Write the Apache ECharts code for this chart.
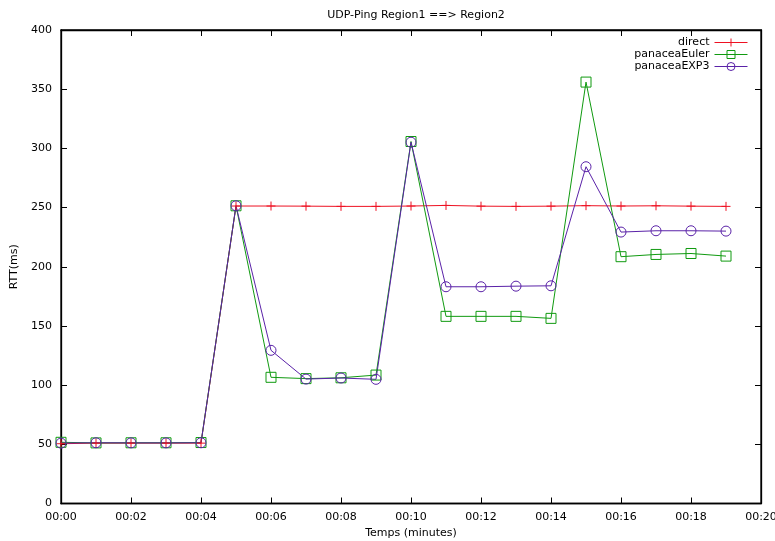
<!DOCTYPE html>
<html>
<head>
<meta charset="utf-8">
<script src="https://cdn.jsdelivr.net/npm/echarts@6/dist/echarts.min.js"></script>
<style>html,body{margin:0;padding:0;background:#fff}#c{width:775px;height:541px}</style>
</head>
<body>
<div id="c"></div>
<script>
const minutes = [0,1,2,3,4,5,6,7,8,9,10,11,12,13,14,15,16,17,18,19];
const direct = [50.5,51,51,51,51,251.3,251.3,251.2,251,251,251.3,251.8,251.2,251,251.2,251.6,251.3,251.5,251.2,251];
const panaceaEuler = [51.7,51.2,51.3,51.3,51.5,251.5,106.6,105.5,106.2,108.5,305.8,158.1,158.1,158.1,156.4,356,208.5,210.4,211.2,209];
const panaceaEXP3 = [51,51.3,51.2,51.2,51.3,251.5,129.4,105.1,106,104.9,305.2,183.1,183.1,183.6,183.9,284.5,229.3,230.4,230.4,230.1];
const seriesNames = ['direct','panaceaEuler','panaceaEXP3'];

const pairs = arr => minutes.map((m,i)=>[m,arr[i]]);
const font = 'DejaVu Sans';
const red = '#ee1122', green = '#109a10', purple = '#5a22a8';
const colors = [red, green, purple];
const fmtX = v => '00:' + String(v).padStart(2,'0');

const chart = echarts.init(document.getElementById('c'));
chart.setOption({
  animation:false,
  backgroundColor:'#fff',
  textStyle:{fontFamily:font},
  title:{text:'UDP-Ping Region1 ==> Region2', left:411, top:5, textAlign:'center',
    textStyle:{fontFamily:font,fontSize:11,fontWeight:'normal',color:'#000'}},
  legend:{orient:'vertical', right:27, top:36, padding:0, align:'right', itemWidth:33, itemHeight:10, itemGap:-1,
    textStyle:{fontFamily:font,fontSize:11,lineHeight:12,color:'#000'},
    data:seriesNames.map((n,i)=>({name:n,
      lineStyle:{color:colors[i],width:1},
      itemStyle:{color:'none',borderColor:colors[i],borderWidth:1}}))},
  grid:{left:61, right:14, top:30, bottom:37.5, outerBoundsMode:'none', containLabel:false,
    show:true, borderColor:'#000', borderWidth:1.3, backgroundColor:'transparent'},
  xAxis:[{type:'value', min:0, max:20, interval:2,
    name:'Temps (minutes)', nameLocation:'middle', nameGap:21,
    nameTextStyle:{fontFamily:font,fontSize:11,color:'#000'},
    axisLine:{show:true,onZero:false,lineStyle:{color:'#000',width:1.3}},
    axisTick:{show:true,inside:true,length:6,lineStyle:{color:'#000'}},
    axisLabel:{fontFamily:font,fontSize:11,color:'#000',margin:8,formatter:fmtX},
    splitLine:{show:false}},
   {type:'value', position:'top', min:0, max:20, interval:2,
    axisLine:{show:true,onZero:false,lineStyle:{color:'#000',width:1.3}},
    axisTick:{show:true,inside:true,length:6,lineStyle:{color:'#000'}},
    axisLabel:{show:false}, splitLine:{show:false}}],
  yAxis:[{type:'value', min:0, max:400, interval:50,
    name:'RTT(ms)', nameLocation:'middle', nameGap:37,
    nameTextStyle:{fontFamily:font,fontSize:11,color:'#000'},
    axisLine:{show:true,onZero:false,lineStyle:{color:'#000',width:1.3}},
    axisTick:{show:true,inside:true,length:6,lineStyle:{color:'#000'}},
    axisLabel:{fontFamily:font,fontSize:11,color:'#000',margin:9},
    splitLine:{show:false}},
   {type:'value', position:'right', min:0, max:400, interval:50,
    axisLine:{show:true,onZero:false,lineStyle:{color:'#000',width:1.3}},
    axisTick:{show:true,inside:true,length:6,lineStyle:{color:'#000'}},
    axisLabel:{show:false}, splitLine:{show:false}}],
  series:[
    {name:'direct', type:'line', data:pairs(direct), symbol:'path://M0,5L10,5M5,0L5,10', symbolSize:9,
     showAllSymbol:true,
     lineStyle:{color:red,width:1}, itemStyle:{color:'none',borderColor:red,borderWidth:1}},
    {name:'panaceaEuler', type:'line', data:pairs(panaceaEuler), symbol:'rect', symbolSize:10,
     showAllSymbol:true,
     lineStyle:{color:green,width:1}, itemStyle:{color:'none',borderColor:green,borderWidth:1}},
    {name:'panaceaEXP3', type:'line', data:pairs(panaceaEXP3), symbol:'circle', symbolSize:10,
     showAllSymbol:true,
     lineStyle:{color:purple,width:1}, itemStyle:{color:'none',borderColor:purple,borderWidth:1}},
    {type:'line', xAxisIndex:1, yAxisIndex:1, data:[], silent:true, showSymbol:false}
  ]
});
</script>
</body>
</html>
